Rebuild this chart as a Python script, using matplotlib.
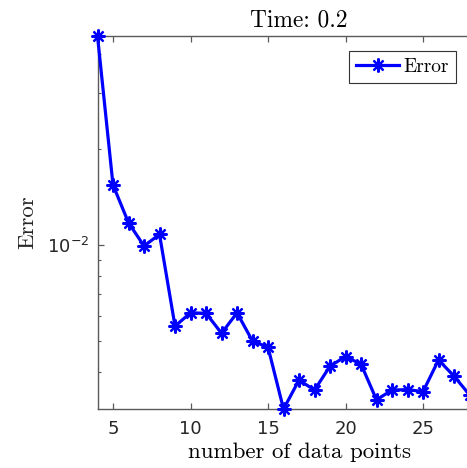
import numpy as np
import matplotlib
matplotlib.use('Agg')
import matplotlib.pyplot as plt
from matplotlib.ticker import LogLocator, NullFormatter

plt.rcParams['font.family'] = 'DejaVu Sans'
plt.rcParams['axes.unicode_minus'] = True

# data
n_points = [4, 5, 6, 7, 8, 9, 10, 11, 12, 13, 14, 15, 16,
            17, 18, 19, 20, 21, 22, 23, 24, 25, 26, 27, 28]
error = [0.0454, 0.01544, 0.01175, 0.00993, 0.0108, 0.00556, 0.00612,
         0.00610, 0.00528, 0.00612, 0.00499, 0.00477, 0.00305,
         0.00376, 0.00350, 0.00416, 0.00446, 0.00422, 0.00326,
         0.00350, 0.00351, 0.00346, 0.00435, 0.00387, 0.00338]

x_ticks = [5, 10, 15, 20, 25]
x_range = (4, 30)
y_range = (0.00305, 0.0454)

serif = 'cmr10'
gray = '#262626'
spine_gray = '#5a5a5a'

fig = plt.figure(figsize=(4.67, 4.68), dpi=100)
# axes runs past the right edge of the figure, like the cropped original
ax = fig.add_axes([0.2088, 0.126, 0.863, 0.797])

ax.plot(n_points, error, color='#0000ff', linewidth=2.3,
        marker=(8, 2, 0), markersize=10, markeredgewidth=1.6,
        clip_on=False, label='Error', zorder=5)

ax.set_yscale('log')
ax.set_xlim(*x_range)
ax.set_ylim(*y_range)
ax.set_xticks(x_ticks)
ax.yaxis.set_major_locator(LogLocator(base=10))
ax.yaxis.set_minor_locator(LogLocator(base=10, subs=np.arange(2, 10)))
ax.yaxis.set_minor_formatter(NullFormatter())

for side in ['top', 'bottom', 'left', 'right']:
    ax.spines[side].set_color(spine_gray)
    ax.spines[side].set_linewidth(1.0)

ax.tick_params(which='both', direction='in', top=True, right=True,
               colors=spine_gray, labelcolor=gray, labelsize=13)
ax.tick_params(which='major', length=4, width=0.9)
ax.tick_params(which='minor', length=2.5, width=0.8)
ax.tick_params(axis='x', pad=8)
ax.tick_params(axis='y', pad=6)

ax.set_title('Time: 0.2', fontfamily=serif, fontsize=16.8, pad=7)
ax.set_xlabel('number of data points', fontfamily=serif, fontsize=16.5,
              labelpad=3)
ax.set_ylabel('Error', fontfamily=serif, fontsize=16.5, labelpad=7,
              color=gray)

leg = ax.legend(loc='upper right', bbox_to_anchor=(456 / 467, 1 - 51 / 468),
                bbox_transform=fig.transFigure, borderaxespad=0,
                fancybox=False, framealpha=1, edgecolor='#333333',
                prop={'family': serif, 'size': 14}, handlelength=2.2,
                handletextpad=0.25, borderpad=0.35)
leg.get_frame().set_linewidth(0.8)

fig.savefig('out.png', dpi=100)
